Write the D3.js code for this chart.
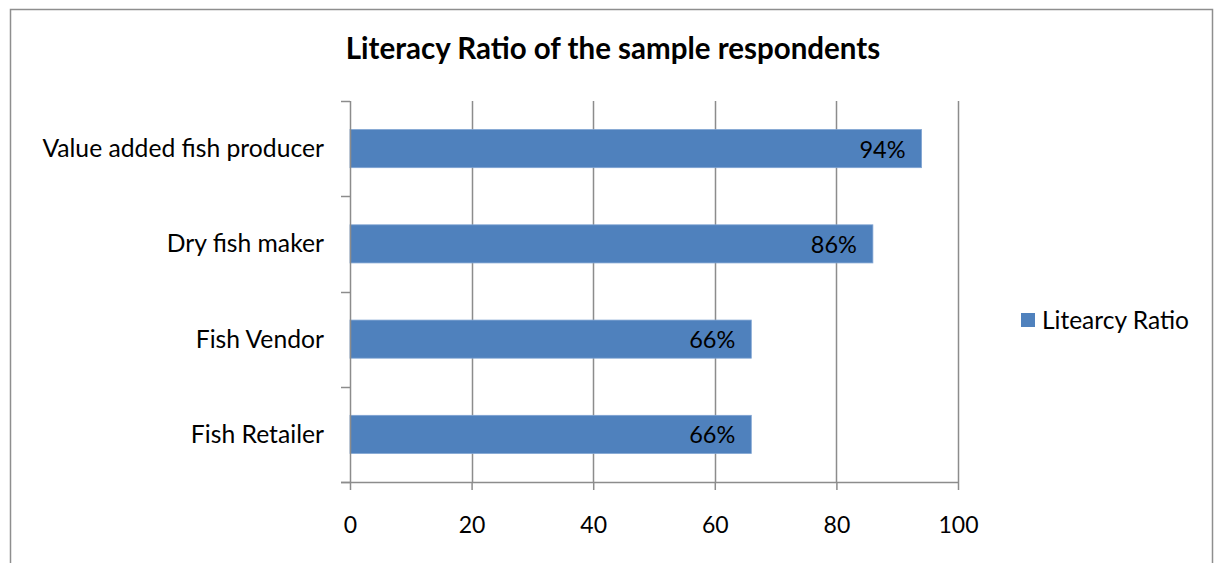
<!DOCTYPE html>
<html>
<head>
<meta charset="utf-8">
<script src="https://cdn.jsdelivr.net/npm/d3@7"></script>
<style>
  html, body { margin: 0; padding: 0; background: #fff; }
  svg { display: block; font-family: Lato, "Open Sans", sans-serif; }
</style>
</head>
<body>
<svg id="chart" width="1216" height="563"></svg>
<script>
// Literacy ratio by respondent group
const categories = ["Value added fish producer", "Dry fish maker", "Fish Vendor", "Fish Retailer"];
const literacy = [94, 86, 66, 66];
const xTicks = [0, 20, 40, 60, 80, 100];
const seriesName = "Litearcy Ratio";
const title = "Literacy Ratio of the sample respondents";

const svg = d3.select("#chart");
const W = 1216, H = 563;
const plot = { left: 350, right: 958, top: 101, bottom: 482 };
const gridColor = "#8c8c8c";
const barColor = "#4f81bd";

// outer frame (open at the bottom edge)
svg.append("path")
  .attr("d", `M10.5,${H} V9.5 H1212.5 V${H}`)
  .attr("fill", "none").attr("stroke", "#8e8e8e").attr("stroke-width", 1.5);

// title
svg.append("text")
  .attr("x", 613).attr("y", 59)
  .attr("text-anchor", "middle")
  .attr("font-size", 29.5).attr("font-weight", "bold").attr("fill", "#000")
  .text(title);

const x = d3.scaleLinear().domain([0, 100]).range([plot.left, plot.right]);
const y = d3.scaleBand().domain(categories).range([plot.top, plot.bottom]).paddingInner(0.6).paddingOuter(0.3);
const band = d3.scaleBand().domain(categories).range([plot.top, plot.bottom]);

// vertical gridlines
svg.append("g").selectAll("line").data(xTicks.slice(1)).join("line")
  .attr("x1", d => Math.round(x(d)) + 0.5).attr("x2", d => Math.round(x(d)) + 0.5)
  .attr("y1", plot.top).attr("y2", plot.bottom)
  .attr("stroke", gridColor).attr("stroke-width", 1.5);

// bars
svg.append("g").selectAll("rect").data(categories).join("rect")
  .attr("x", x(0)).attr("y", d => y(d))
  .attr("width", (d, i) => x(literacy[i]) - x(0))
  .attr("height", y.bandwidth())
  .attr("fill", barColor)
  .attr("stroke", "#7fa3d2").attr("stroke-width", 0.8);

// value labels inside bar ends
svg.append("g").selectAll("text").data(categories).join("text")
  .attr("x", (d, i) => x(literacy[i]) - 16)
  .attr("y", d => y(d) + y.bandwidth() / 2 + 9)
  .attr("text-anchor", "end")
  .attr("font-size", 23.5).attr("fill", "#000")
  .text((d, i) => literacy[i] + "%");

// x axis
const xAxis = d3.axisBottom(x).tickValues(xTicks).tickSize(8).tickPadding(27);
const gx = svg.append("g").attr("transform", `translate(0,${plot.bottom})`).call(xAxis);
gx.select(".domain").attr("d", `M${plot.left - 9},0.5H${plot.right}`).attr("stroke", gridColor).attr("stroke-width", 1.5);
gx.selectAll(".tick line").attr("stroke", gridColor).attr("stroke-width", 1.5);
gx.selectAll(".tick text").attr("font-size", 23).attr("font-family", "Lato, sans-serif").attr("fill", "#000");

// y axis with ticks at band boundaries
const yAxisG = svg.append("g");
yAxisG.append("line")
  .attr("x1", plot.left + 0.5).attr("x2", plot.left + 0.5)
  .attr("y1", plot.top).attr("y2", plot.bottom)
  .attr("stroke", gridColor).attr("stroke-width", 1.5);
const boundaries = categories.map(c => band(c)).concat([plot.bottom]);
yAxisG.selectAll(".yt").data(boundaries).join("line").attr("class", "yt")
  .attr("x1", plot.left - 9).attr("x2", plot.left)
  .attr("y1", d => Math.round(d) + 0.5).attr("y2", d => Math.round(d) + 0.5)
  .attr("stroke", gridColor).attr("stroke-width", 1.5);
yAxisG.selectAll("text").data(categories).join("text")
  .attr("x", plot.left - 26)
  .attr("y", d => band(d) + band.bandwidth() / 2 + 8.5)
  .attr("text-anchor", "end")
  .attr("font-size", 24.7).attr("fill", "#000")
  .text(d => d);

// legend
const lg = svg.append("g").attr("transform", "translate(1021,313)");
lg.append("rect").attr("width", 14).attr("height", 14).attr("fill", barColor);
lg.append("text").attr("x", 21).attr("y", 15.5).attr("font-size", 24.5).attr("fill", "#000").text(seriesName);
</script>
</body>
</html>
